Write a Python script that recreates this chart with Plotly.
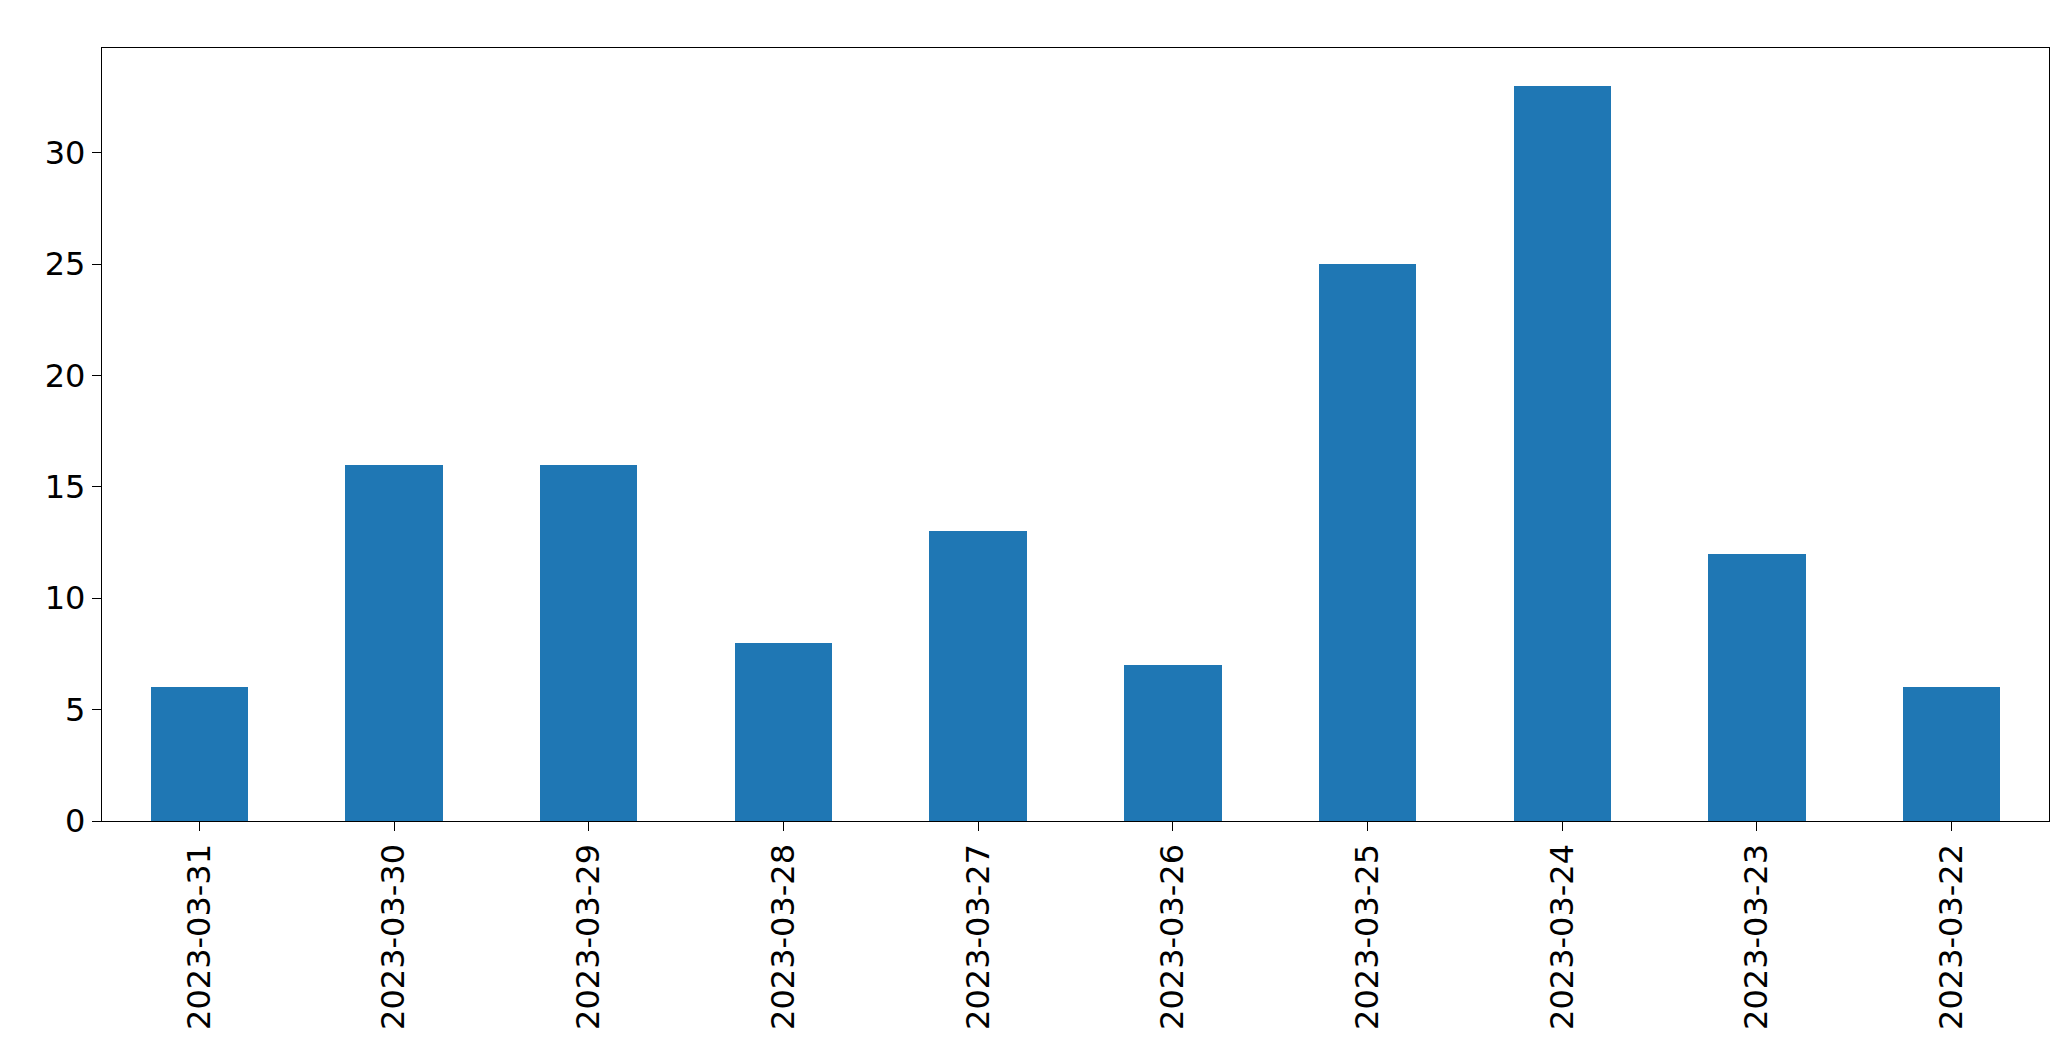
import plotly.graph_objects as go

dates = ["2023-03-31","2023-03-30","2023-03-29","2023-03-28","2023-03-27",
         "2023-03-26","2023-03-25","2023-03-24","2023-03-23","2023-03-22"]
counts = [6, 16, 16, 8, 13, 7, 25, 33, 12, 6]

fig = go.Figure(go.Bar(x=dates, y=counts, width=0.5, marker_color="#1f77b4",
                       marker_line_width=0))
fig.update_layout(
    width=2071, height=1061, plot_bgcolor="white", paper_bgcolor="white",
    margin=dict(l=94, r=30, t=40, b=248),
    font=dict(family="DejaVu Sans", size=32, color="black"),
    showlegend=False, bargap=0,
)
fig.update_xaxes(type="category", range=[-0.5, 9.5], tickangle=-90,
                 showline=True, linecolor="black", mirror=True, linewidth=1.3,
                 ticks="outside", ticklen=9, tickwidth=1.3, tickcolor="black",
                 showgrid=False)
fig.update_yaxes(range=[0, 34.7], tickvals=[0,5,10,15,20,25,30],
                 showline=True, linecolor="black", mirror=True, linewidth=1.3,
                 ticks="outside", ticklen=9, tickwidth=1.3, tickcolor="black",
                 showgrid=False, zeroline=False)
fig.write_html("out.html")
